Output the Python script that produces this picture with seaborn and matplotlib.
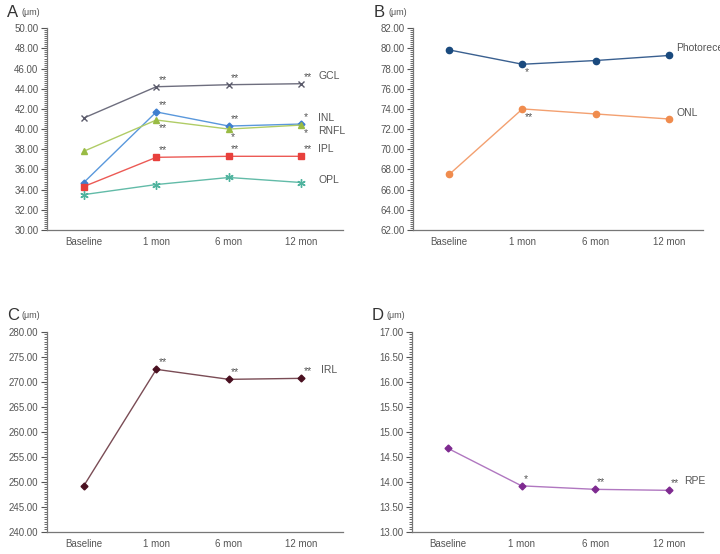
import numpy as np
import pandas as pd
import matplotlib
matplotlib.use("Agg")
import matplotlib.pyplot as plt
from matplotlib.ticker import AutoMinorLocator, MultipleLocator, FormatStrFormatter
import seaborn as sns

# time points
visits = ["Baseline", "1 mon", "6 mon", "12 mon"]

# panel A (um)
gcl = [41.1, 44.2, 44.4, 44.5]
inl = [34.7, 41.7, 40.3, 40.5]
rnfl = [37.8, 40.9, 40.0, 40.4]
ipl = [34.3, 37.2, 37.3, 37.3]
opl = [33.5, 34.5, 35.2, 34.7]
# panel B
photoreceptor = [79.85, 78.43, 78.8, 79.3]
onl = [67.5, 74.0, 73.5, 73.0]
# panel C
irl = [249.2, 272.5, 270.5, 270.7]
# panel D
rpe = [14.67, 13.92, 13.85, 13.83]

# significance marks
sig_gcl = ["", "**", "**", "**"]
sig_inl = ["", "**", "**", "*"]
sig_rnfl = ["", "**", "*", "*"]
sig_ipl = ["", "**", "**", "**"]
sig_opl = ["", "", "", ""]
sig_photo = ["", "*", "", ""]
sig_onl = ["", "**", "", ""]
sig_irl = ["", "**", "**", "**"]
sig_rpe = ["", "*", "**", "**"]

sns.set_style("ticks")
plt.rcParams["font.family"] = ["Liberation Sans", "DejaVu Sans"]
TXT = "#555555"

fig = plt.figure(figsize=(7.2, 5.54), dpi=100)
axA = fig.add_axes([0.065, 0.585, 0.411, 0.364])
axB = fig.add_axes([0.574, 0.585, 0.402, 0.364])
axC = fig.add_axes([0.065, 0.040, 0.411, 0.361])
axD = fig.add_axes([0.572, 0.040, 0.404, 0.361])

pos = np.arange(len(visits))


def draw(ax, vals, name, color, lcolor, marker, ms, sig, below, lab_off):
    df = pd.DataFrame({"x": pos, "y": vals})
    sns.lineplot(data=df, x="x", y="y", ax=ax, color=lcolor, lw=1.0,
                 marker=marker, markersize=ms, markerfacecolor=color,
                 markeredgecolor=color, markeredgewidth=1.0)
    for i, s in enumerate(sig):
        if not s:
            continue
        if below[i]:
            ax.annotate(s, (pos[i], vals[i]), xytext=(2, -3),
                        textcoords="offset pixels", fontsize=7.5, color=TXT,
                        ha="left", va="top")
        else:
            ax.annotate(s, (pos[i], vals[i]), xytext=(2, 2),
                        textcoords="offset pixels", fontsize=7.5, color=TXT,
                        ha="left", va="bottom")
    ax.annotate(name, (pos[-1], vals[-1]), xytext=lab_off,
                textcoords="offset pixels", fontsize=7.5, color=TXT,
                ha="left", va="center", annotation_clip=False)


def style(ax, lo, hi, step, xlim, letter):
    ax.set_ylim(lo, hi)
    ax.set_xlim(*xlim)
    ax.yaxis.set_major_locator(MultipleLocator(step))
    ax.yaxis.set_minor_locator(AutoMinorLocator(10))
    ax.yaxis.set_major_formatter(FormatStrFormatter("%.2f"))
    ax.set_xticks(pos)
    ax.set_xticklabels(visits)
    ax.tick_params(axis="x", length=0, pad=5, labelsize=7, colors=TXT)
    ax.tick_params(axis="y", which="major", length=4, width=0.8,
                   labelsize=7, colors=TXT, pad=2)
    ax.tick_params(axis="y", which="minor", length=2.5, width=0.6, colors=TXT)
    for sp in ["top", "right"]:
        ax.spines[sp].set_visible(False)
    for sp in ["left", "bottom"]:
        ax.spines[sp].set_color("#777777")
        ax.spines[sp].set_linewidth(0.9)
    ax.set_xlabel("")
    ax.set_ylabel("")
    ax.annotate(letter, (0, 1), xycoords="axes fraction", xytext=(-40, 16),
                textcoords="offset pixels", fontsize=12, color="#333333",
                ha="left", va="center")
    ax.annotate("(μm)", (0, 1), xycoords="axes fraction", xytext=(-25, 16),
                textcoords="offset pixels", fontsize=6.5, color=TXT,
                ha="left", va="center")


xlim_l = (-0.51, 3.57)
xlim_r = (-0.49, 3.46)

# A
draw(axA, gcl, "GCL", "#5a5a6a", "#6e6e7e", "x", 5, sig_gcl, [0, 0, 0, 0], (17, 8))
draw(axA, inl, "INL", "#3f7fcf", "#5a98dc", "D", 3.5, sig_inl, [0, 0, 0, 0], (17, 6))
draw(axA, rnfl, "RNFL", "#99bb44", "#b0cc66", "^", 4.5, sig_rnfl, [0, 1, 1, 1], (17, -6))
draw(axA, ipl, "IPL", "#e8403c", "#ec5a55", "s", 4.5, sig_ipl, [0, 0, 0, 0], (17, 7))
draw(axA, opl, "OPL", "#4fb39e", "#62bba8", (6, 2, 0), 6, sig_opl, [0, 0, 0, 0], (17, 3))
style(axA, 30, 50, 2, xlim_l, "A")

# B
draw(axB, photoreceptor, "Photoreceptor", "#1a4a7e", "#3a6090", "o", 4.5,
     sig_photo, [0, 1, 0, 0], (7, 7))
draw(axB, onl, "ONL", "#f08c4e", "#f3a070", "o", 4.5, sig_onl, [0, 1, 0, 0], (7, 6))
style(axB, 62, 82, 2, xlim_r, "B")

# C
draw(axC, irl, "IRL", "#4a1020", "#7a4c55", "D", 3.5, sig_irl, [0, 0, 0, 0], (20, 8))
style(axC, 240, 280, 5, xlim_l, "C")

# D
draw(axD, rpe, "RPE", "#7e2a90", "#b077c0", "D", 3.5, sig_rpe, [0, 0, 0, 0], (15, 9))
style(axD, 13, 17, 0.5, xlim_r, "D")

fig.savefig("out.png", dpi=100)
